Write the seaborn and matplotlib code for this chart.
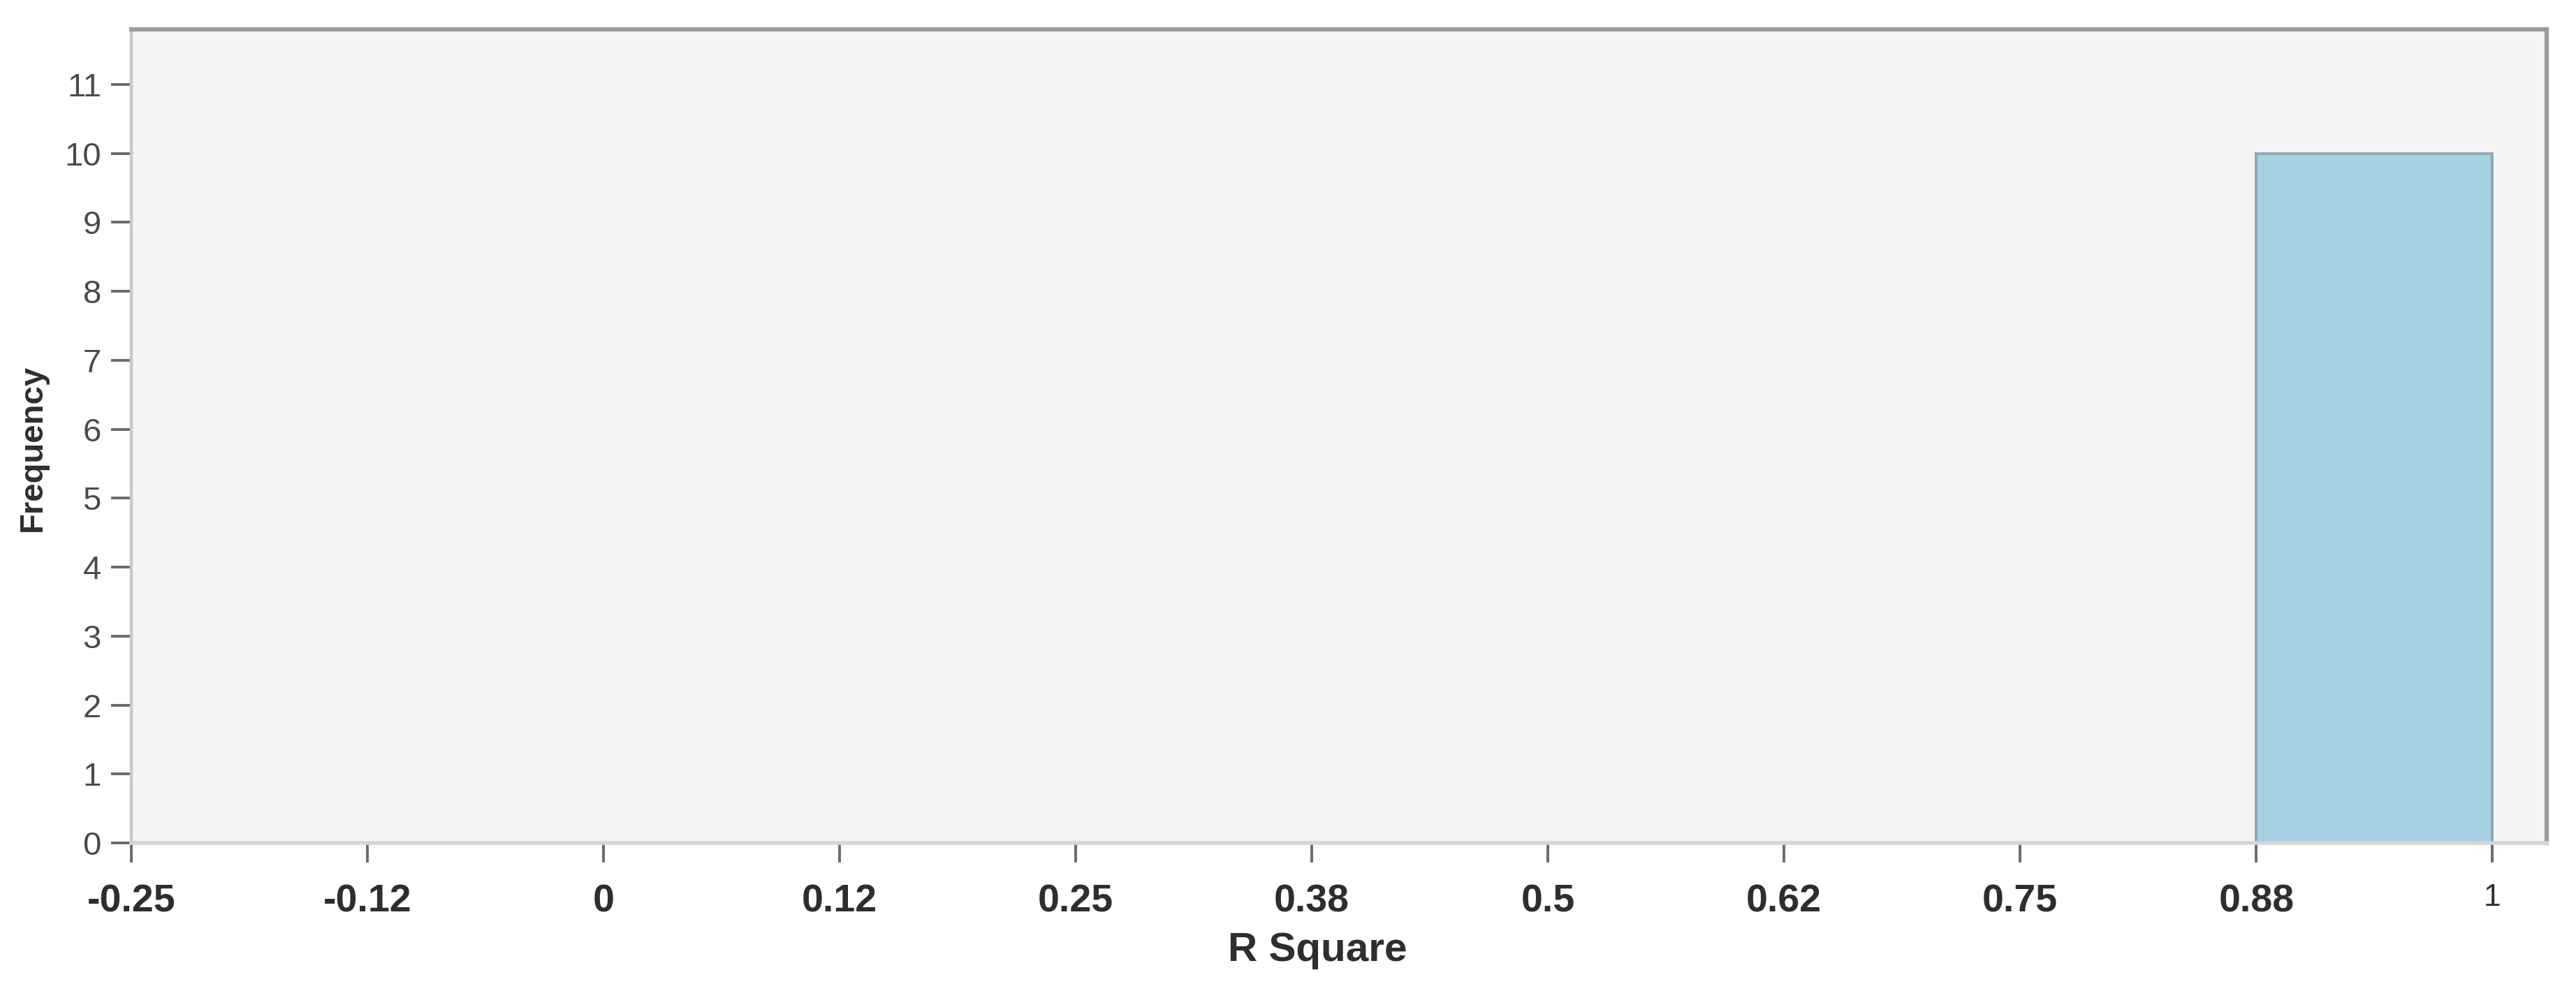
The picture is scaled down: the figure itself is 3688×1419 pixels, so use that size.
import numpy as np
import pandas as pd
import matplotlib
matplotlib.use("Agg")
import matplotlib.pyplot as plt
import seaborn as sns

# Data: histogram of R Square values
bin_edges = [-0.25, -0.125, 0.0, 0.125, 0.25, 0.375, 0.5, 0.625, 0.75, 0.875, 1.0]
counts = [0, 0, 0, 0, 0, 0, 0, 0, 0, 10]
xtick_values = [-0.25, -0.125, 0.0, 0.125, 0.25, 0.375, 0.5, 0.625, 0.75, 0.875, 1.0]
xtick_labels = ["-0.25", "-0.12", "0", "0.12", "0.25", "0.38", "0.5", "0.62", "0.75", "0.88", "1"]
ytick_values = list(range(0, 12))

sns.set_theme(style="white")
plt.rcParams['font.family'] = ['Liberation Sans', 'DejaVu Sans']

centers = [(bin_edges[i] + bin_edges[i + 1]) / 2 for i in range(len(counts))]
df = pd.DataFrame({"R Square": centers, "count": counts})

fig = plt.figure(figsize=(18.44, 7.095), dpi=200)
ax = fig.add_axes([188 / 3688, 1 - 1207 / 1419, (3646 - 188) / 3688, (1207 - 42) / 1419])
ax.set_facecolor("#f4f4f4")

sns.histplot(data=df, x="R Square", weights="count", bins=bin_edges, ax=ax,
             color="#a6d1e4", alpha=1.0, edgecolor="#8fa9b5", linewidth=1.4)

ax.set_xlim(-0.25, 1.0287)
ax.set_ylim(0, 11.8)

ax.set_xticks(xtick_values)
ax.set_xticklabels(xtick_labels)
for lbl in ax.get_xticklabels():
    if lbl.get_text() == "1":
        lbl.set_fontweight("normal")
        lbl.set_fontsize(16)
    else:
        lbl.set_fontweight("bold")
        lbl.set_fontsize(20)
    lbl.set_color("#2e2e2e")
ax.set_yticks(ytick_values)
ax.set_yticklabels([str(v) for v in ytick_values], fontsize=17, color="#4a4a4a")

ax.tick_params(axis="x", direction="out", length=10, width=1.4, color="#6a6a6a", pad=11, bottom=True)
ax.tick_params(axis="y", direction="out", length=10.5, width=1.4, color="#6a6a6a", pad=5, left=True)

for side, col, lw in [("top", "#9a9a9a", 2.2), ("right", "#9a9a9a", 2.2),
                      ("left", "#c8c8c8", 1.6), ("bottom", "#d6d6d6", 2.0)]:
    ax.spines[side].set_visible(True)
    ax.spines[side].set_color(col)
    ax.spines[side].set_linewidth(lw)

ax.set_xlabel("R Square", fontsize=21, fontweight="bold", color="#2e2e2e")
ax.xaxis.set_label_coords(0.491, -0.109)
ax.set_ylabel("Frequency", fontsize=17, fontweight="bold", color="#2e2e2e")
ax.yaxis.set_label_coords(-0.0345, 0.485)
ax.grid(False)

fig.savefig("out.png", dpi=200, facecolor="white")
